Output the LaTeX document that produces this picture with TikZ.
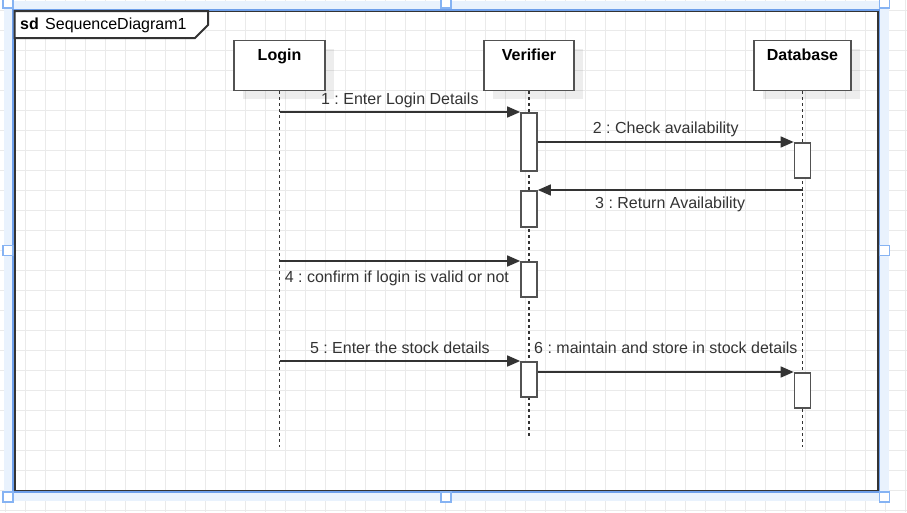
\documentclass[tikz,border=0pt]{standalone}
\usepackage{fontspec}
\setmainfont{Liberation Sans}
\usepackage{xcolor}
\usetikzlibrary{arrows.meta,positioning,shadows}
\frenchspacing
\definecolor{umlline}{HTML}{333333}
\definecolor{umltext}{HTML}{333333}
\definecolor{gridgray}{HTML}{EAEAEA}
\definecolor{selblue}{HTML}{6E9FEA}
\definecolor{selhandle}{HTML}{86B3F3}
\definecolor{selband}{HTML}{E9F2FD}
\tikzset{
  gridline/.style={draw=gridgray, line width=1pt},
  bandline/.style={draw=selband, line width=9pt},
  selline/.style={draw=selblue, line width=1.3pt},
  handlebox/.style={draw=selhandle, fill=white, line width=1.5pt, minimum size=10pt, inner sep=0pt},
  framebox/.style={draw=umlline, line width=2pt},
  headbox/.style={draw=umlline!85, line width=1.9pt, fill=white, minimum height=50pt, inner sep=0pt,
    drop shadow={shadow xshift=9pt, shadow yshift=-8pt, fill=black, opacity=0.07}},
  headlabel/.style={font=\fontsize{16}{19}\selectfont\bfseries, text=black, anchor=base, inner sep=0pt},
  actbar/.style={draw=umlline!85, line width=1.7pt, fill=white, minimum width=16pt, inner sep=0pt, anchor=north},
  lifeline/.style={draw=umlline, line width=1.6pt, dash pattern=on 3pt off 3pt},
  msg/.style={draw=umlline, line width=1.6pt, -{Triangle[length=13pt, width=11pt]}},
  msglabel/.style={font=\fontsize{16}{19}\selectfont, text=umltext, anchor=base, inner sep=0pt}
}
\begin{document}
\begin{tikzpicture}[x=1pt, y=-1pt]
  \useasboundingbox (0,0) rectangle (907,512);
  % background grid
  \foreach \gx in {5,25,...,905} \draw[gridline] (\gx,0) -- (\gx,512);
  \foreach \gy in {10,30,...,510} \draw[gridline] (0,\gy) -- (907,\gy);

  % selection and frame
  \draw[bandline] (8.5,5) rectangle (884.5,496.5);
  \draw[framebox] (14.5,11) rectangle (877.5,490.5);
  \draw[selline] (13,10) rectangle (879.5,492);
  \draw[framebox, fill=white] (14.5,11) -- (208,11) -- (208,25) -- (195,38) -- (14.5,38) -- cycle;
  \node[msglabel, anchor=base west, font=\fontsize{16}{19}\selectfont\bfseries, text=black] (sdtag) at (20,29) {sd};
  \node[msglabel, anchor=base west, text=black] (sdname) at (45,29) {SequenceDiagram1};

  % lifeline heads
  \node[headbox, minimum width=91pt] (login) at (279.5,65.5) {};
  \node[headbox, minimum width=90pt] (verifier) at (529,65.5) {};
  \node[headbox, minimum width=97pt] (database) at (802.5,65.5) {};
  \node[headlabel] (loginlabel) at ([yshift=-21pt]login.north) {Login};
  \node[headlabel] (verifierlabel) at ([yshift=-21pt]verifier.north) {Verifier};
  \node[headlabel] (databaselabel) at ([yshift=-21pt]database.north) {Database};

  \coordinate (loginend) at (279.5,447);
  \coordinate (verifierend) at (529,439);
  \coordinate (databaseend) at (802.5,447);
  \draw[lifeline] (login.south) -- (loginend);
  \draw[lifeline] (verifier.south) -- (verifierend);
  \draw[lifeline] (database.south) -- (databaseend);

  % activations
  \node[actbar, minimum height=58pt] (va) at (529,112) {};
  \node[actbar, minimum height=36pt] (vb) at (529,190) {};
  \node[actbar, minimum height=35pt] (vc) at (529,261) {};
  \node[actbar, minimum height=35pt] (vd) at (529,361) {};
  \node[actbar, minimum height=35pt] (da) at (802.5,142) {};
  \node[actbar, minimum height=35pt] (db) at (802.5,372) {};

  % messages
  \draw[msg] (login.south |- va.north) -- (va.north west)
    node[msglabel, midway, yshift=8pt] {1 : Enter Login Details};
  \draw[msg] (va.east |- da.north) -- (da.north west)
    node[msglabel, midway, yshift=8.5pt] {2 : Check availability};
  \draw[msg] (database.south |- vb.north) -- (vb.north east)
    node[msglabel, midway, yshift=-18pt] {3 : Return Availability};
  \draw[msg] (login.south |- vc.north) -- (vc.north west)
    node[msglabel, pos=0, anchor=base west, xshift=4.5pt, yshift=-21.5pt] {4 : confirm if login is valid or not};
  \draw[msg] (login.south |- vd.north) -- (vd.north west)
    node[msglabel, midway, yshift=8pt] {5 : Enter the stock details};
  \draw[msg] (vd.east |- db.north) -- (db.north west);
  \node[msglabel, anchor=base west] (msgsix) at ([xshift=5pt, yshift=8pt]vd.north) {6 : maintain and store in stock details};

  % selection handles
  \foreach \hx/\hy [count=\hi] in {8/3, 446/3, 884.5/3, 8/250.5, 884.5/250.5, 8/497, 446/497, 884.5/497}
    \node[handlebox] (handle\hi) at (\hx,\hy) {};
\end{tikzpicture}
\end{document}
